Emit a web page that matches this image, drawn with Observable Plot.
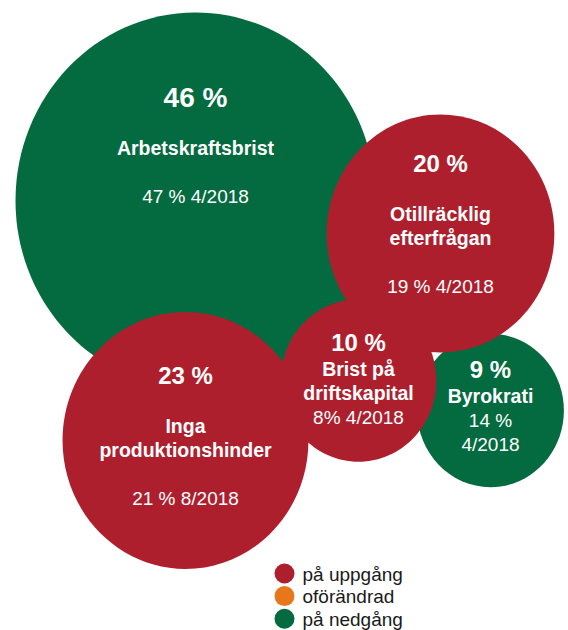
<!DOCTYPE html>
<html>
<head>
<meta charset="utf-8">
<script src="https://cdn.jsdelivr.net/npm/d3@7"></script>
<script src="https://cdn.jsdelivr.net/npm/@observablehq/plot@0.6"></script>
<style>
  html, body { margin: 0; padding: 0; background: #fff; }
  svg { display: block; }
</style>
</head>
<body>
<div id="chart"></div>
<script>
// ---- data ----
const labels = ["Arbetskraftsbrist", "Otillräcklig\nefterfrågan", "Inga\nproduktionshinder", "Brist på\ndriftskapital", "Byrokrati"];
const values = [46, 20, 23, 10, 9];
const previous = ["47 % 4/2018", "19 % 4/2018", "21 % 8/2018", "8% 4/2018", "14 %\n4/2018"];
const trends = ["på nedgång", "på uppgång", "på uppgång", "på uppgång", "på nedgång"];
const trendCategories = ["på uppgång", "oförändrad", "på nedgång"];

// ---- layout (not data) ----
const trendColors = ["#AE1F2E", "#E8761A", "#036B3F"];
const centers = [[195, 200, -53], [440, 233, -8], [185, 440, -3], [358, 380, 0], [490, 410, -3]];
const drawOrder = [0, 4, 1, 2, 3];
const ASPECT = 1.045;
const FONT = "Liberation Sans, Arial, Helvetica, sans-serif";

const ellipse = {
  draw(ctx, size) {
    const rx = Math.sqrt(size / Math.PI), ry = rx * ASPECT, k = 0.5522847498;
    ctx.moveTo(rx, 0);
    ctx.bezierCurveTo(rx, k * ry, k * rx, ry, 0, ry);
    ctx.bezierCurveTo(-k * rx, ry, -rx, k * ry, -rx, 0);
    ctx.bezierCurveTo(-rx, -k * ry, -k * rx, -ry, 0, -ry);
    ctx.bezierCurveTo(k * rx, -ry, rx, -k * ry, rx, 0);
    ctx.closePath();
  }
};

const bubbles = drawOrder.map(i => ({
  label: labels[i], value: values[i], trend: trends[i],
  x: centers[i][0], y: centers[i][1]
}));

function gap(a, b, big) {
  if (big) {
    if (a === "pct") return 50;
    if (a === "label" && b === "label") return 24;
    if (a === "label") return 48;
    return 24;
  } else {
    if (a === "pct") return 26.5;
    if (a === "label" && b === "label") return 23.5;
    if (a === "label") return 24.5;
    return 24;
  }
}

const lines = [];
labels.forEach((lab, i) => {
  const big = values[i] >= 20;
  const items = [{text: `${values[i]} %`, kind: "pct"}];
  lab.split("\n").forEach(t => items.push({text: t, kind: "label"}));
  previous[i].split("\n").forEach(t => items.push({text: t, kind: "prev"}));
  let y = 0, pk = null;
  items.forEach(it => { if (pk) y += gap(pk, it.kind, big); it.dy = y; pk = it.kind; });
  const mid = y / 2;
  const [cx, cy, shift] = centers[i];
  items.forEach(it => lines.push({
    text: it.text, kind: it.kind,
    x: cx, y: cy + shift + it.dy - mid,
    size: it.kind === "pct" ? (big && values[i] > 40 ? 28 : 24) : (it.kind === "label" ? 19.5 : 19)
  }));
});

const legendRows = trendCategories.map((t, i) => ({trend: t, i}));

const chart = Plot.plot({
  width: 568,
  height: 630,
  margin: 0,
  style: {fontFamily: FONT, background: "#fff"},
  x: {domain: [0, 568], range: [0, 568], axis: null},
  y: {domain: [0, 630], range: [0, 630], axis: null},
  r: {type: "pow", exponent: 0.55, domain: [0, 46], range: [0, 180]},
  color: {domain: trendCategories, range: trendColors},
  marks: [
    Plot.dot(bubbles, {x: "x", y: "y", r: "value", fill: "trend", symbol: ellipse, sort: null}),
    Plot.text(lines.filter(d => d.kind !== "prev"), {
      x: "x", y: "y", text: "text", fill: "white", fontSize: "size", fontWeight: "bold", fontFamily: FONT
    }),
    Plot.text(lines.filter(d => d.kind === "prev"), {
      x: "x", y: "y", text: "text", fill: "white", fontSize: "size", fontFamily: FONT
    }),
    Plot.dot(legendRows, {x: () => 284, y: d => 573 + d.i * 22.6, r: 10, fill: "trend"}),
    Plot.text(legendRows, {
      x: () => 302, y: d => 574 + d.i * 22.6, text: "trend", textAnchor: "start",
      fill: "#1a1a1a", fontSize: 19, fontFamily: FONT
    })
  ]
});
document.getElementById("chart").appendChild(chart);
</script>
</body>
</html>
